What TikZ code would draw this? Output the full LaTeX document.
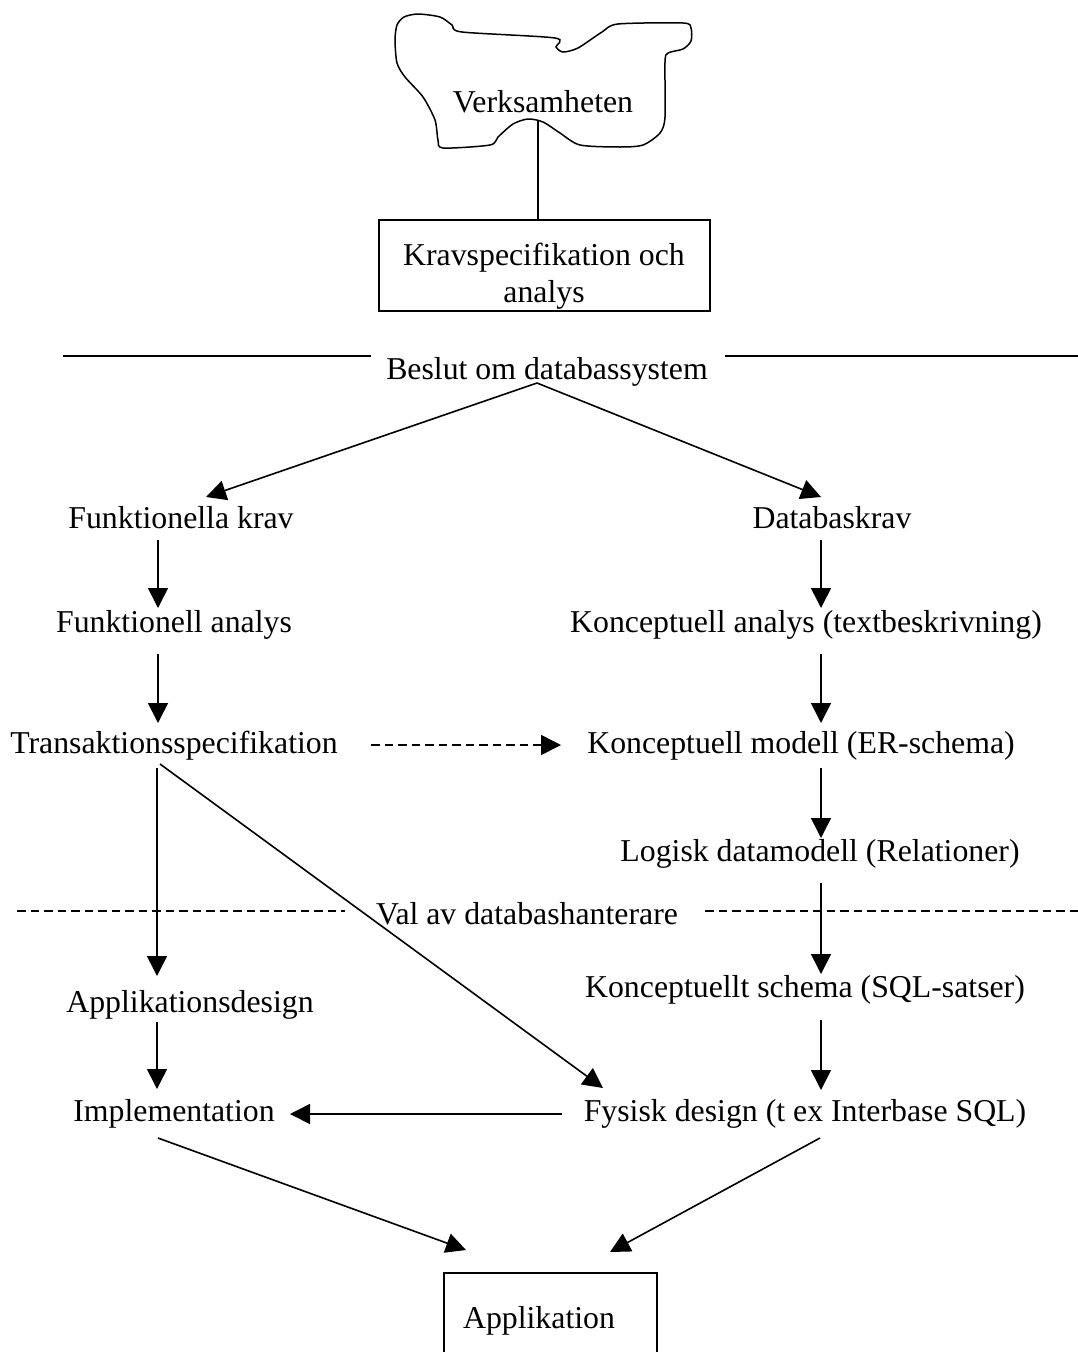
\documentclass[tikz,border=0pt]{standalone}
\usepackage{fontspec}
\setmainfont{Liberation Serif}[Ligatures=CommonOff]
\usetikzlibrary{arrows.meta}
\begin{document}
\begin{tikzpicture}[x=1pt,y=-1pt,line width=1.6pt,
  txt/.style={font=\fontsize{31.8}{37}\selectfont,inner sep=0pt,anchor=base},
  arr/.style={-{Triangle[length=20pt,width=20pt]}},
  dsh/.style={dash pattern=on 8.5pt off 5pt},
  boxx/.style={draw,line width=1.8pt,inner sep=0pt}]
\useasboundingbox (0,0) rectangle (1078,1352);
% cloud
\draw[line width=1.5pt] plot[smooth cycle,tension=0.45] coordinates{
 (397,25) (404,17) (418,14) (440,17) (452,25) (462,32) (555,38) (556,47)
 (563,52) (578,48) (602,32) (618,24) (683,23) (691,28) (691,41) (683,49)
 (668,53) (665,62) (665,117) (660,133) (643,145) (620,147) (580,145)
 (560,133) (543,122) (528,119) (513,124) (498,137) (490,145) (443,148)
 (438,140) (435,120) (423,97) (405,77) (397,63) (395,40)};
\node[txt] (verk) at (543,112) {Verksamheten};
\coordinate (cloudbot) at (538,121);
% Krav box
\node[boxx,minimum width=331pt,minimum height=91pt] (kravbox) at (544.5,265.5) {};
\node[txt,align=center] (krav) at (544,302) {Kravspecifikation och\\analys};
\draw (cloudbot) -- (cloudbot |- kravbox.north);
% decision line
\coordinate (h1a) at (63,356); \coordinate (h1b) at (371,356);
\coordinate (h2a) at (725,356); \coordinate (h2b) at (1078,356);
\draw (h1a) -- (h1b); \draw (h2a) -- (h2b);
\node[txt] (beslut) at (547,379) {Beslut om databassystem};
% left column
\node[txt] (fk) at (181,528) {Funktionella krav};
\node[txt] (fa) at (174,632) {Funktionell analys};
\node[txt] (ts) at (174,753) {Transaktionsspecifikation};
\node[txt] (ad) at (190,1012) {Applikationsdesign};
\node[txt] (impl) at (174,1121) {Implementation};
% right column
\node[txt] (dk) at (832,528) {Databaskrav};
\node[txt] (ka) at (806,632) {Konceptuell analys (textbeskrivning)};
\node[txt] (km) at (801,753) {Konceptuell modell (ER-schema)};
\node[txt] (ld) at (820,861) {Logisk datamodell (Relationer)};
\node[txt] (ks) at (805,997) {Konceptuellt schema (SQL-satser)};
\node[txt] (fd) at (805,1121) {Fysisk design (t ex Interbase SQL)};
% val line
\node[txt] (val) at (527,924) {Val av databashanterare};
\coordinate (d1a) at (17,911); \coordinate (d1b) at (345,911);
\coordinate (d2a) at (705,911); \coordinate (d2b) at (1078,911);
\draw[dsh] (d1a) -- (d1b); \draw[dsh] (d2a) -- (d2b);
% Applikation box
\node[boxx,anchor=north west,minimum width=213pt,minimum height=100pt] (appbox) at (443,1272) {};
\node[txt] (app) at (539,1328) {Applikation};
% arrow endpoints
\coordinate (apex) at (537,383);
\coordinate (fkT) at (206,497); \coordinate (dkT) at (821,497);
\coordinate (l1s) at (158,540); \coordinate (l1e) at (158,608);
\coordinate (l2s) at (158,654); \coordinate (l2e) at (158,723);
\coordinate (l3s) at (157,768); \coordinate (l3e) at (157,976);
\coordinate (l4s) at (157,1022); \coordinate (l4e) at (157,1089);
\coordinate (r1s) at (821,540); \coordinate (r1e) at (821,608);
\coordinate (r2s) at (821,654); \coordinate (r2e) at (821,723);
\coordinate (r3s) at (821,768); \coordinate (r3e) at (821,838);
\coordinate (r4s) at (821,883); \coordinate (r4e) at (821,974);
\coordinate (r5s) at (821,1020); \coordinate (r5e) at (821,1090);
\coordinate (dgs) at (160,764); \coordinate (dge) at (603,1088);
\coordinate (hs) at (562,1114); \coordinate (he) at (290,1114);
\coordinate (ias) at (158,1138); \coordinate (iae) at (466,1250);
\coordinate (fas) at (820,1138); \coordinate (fae) at (610,1252);
\coordinate (dts) at (371,745); \coordinate (dte) at (561,745);
% connectors
\draw[arr] (apex) -- (fkT);
\draw[arr] (apex) -- (dkT);
\draw[arr] (l1s) -- (l1e);
\draw[arr] (l2s) -- (l2e);
\draw[arr] (l3s) -- (l3e);
\draw[arr] (l4s) -- (l4e);
\draw[arr] (r1s) -- (r1e);
\draw[arr] (r2s) -- (r2e);
\draw[arr] (r3s) -- (r3e);
\draw[arr] (r4s) -- (r4e);
\draw[arr] (r5s) -- (r5e);
\draw[arr] (dgs) -- (dge);
\draw[arr] (hs) -- (he);
\draw[arr] (ias) -- (iae);
\draw[arr] (fas) -- (fae);
\draw[arr,dsh] (dts) -- (dte);
\end{tikzpicture}
\end{document}
